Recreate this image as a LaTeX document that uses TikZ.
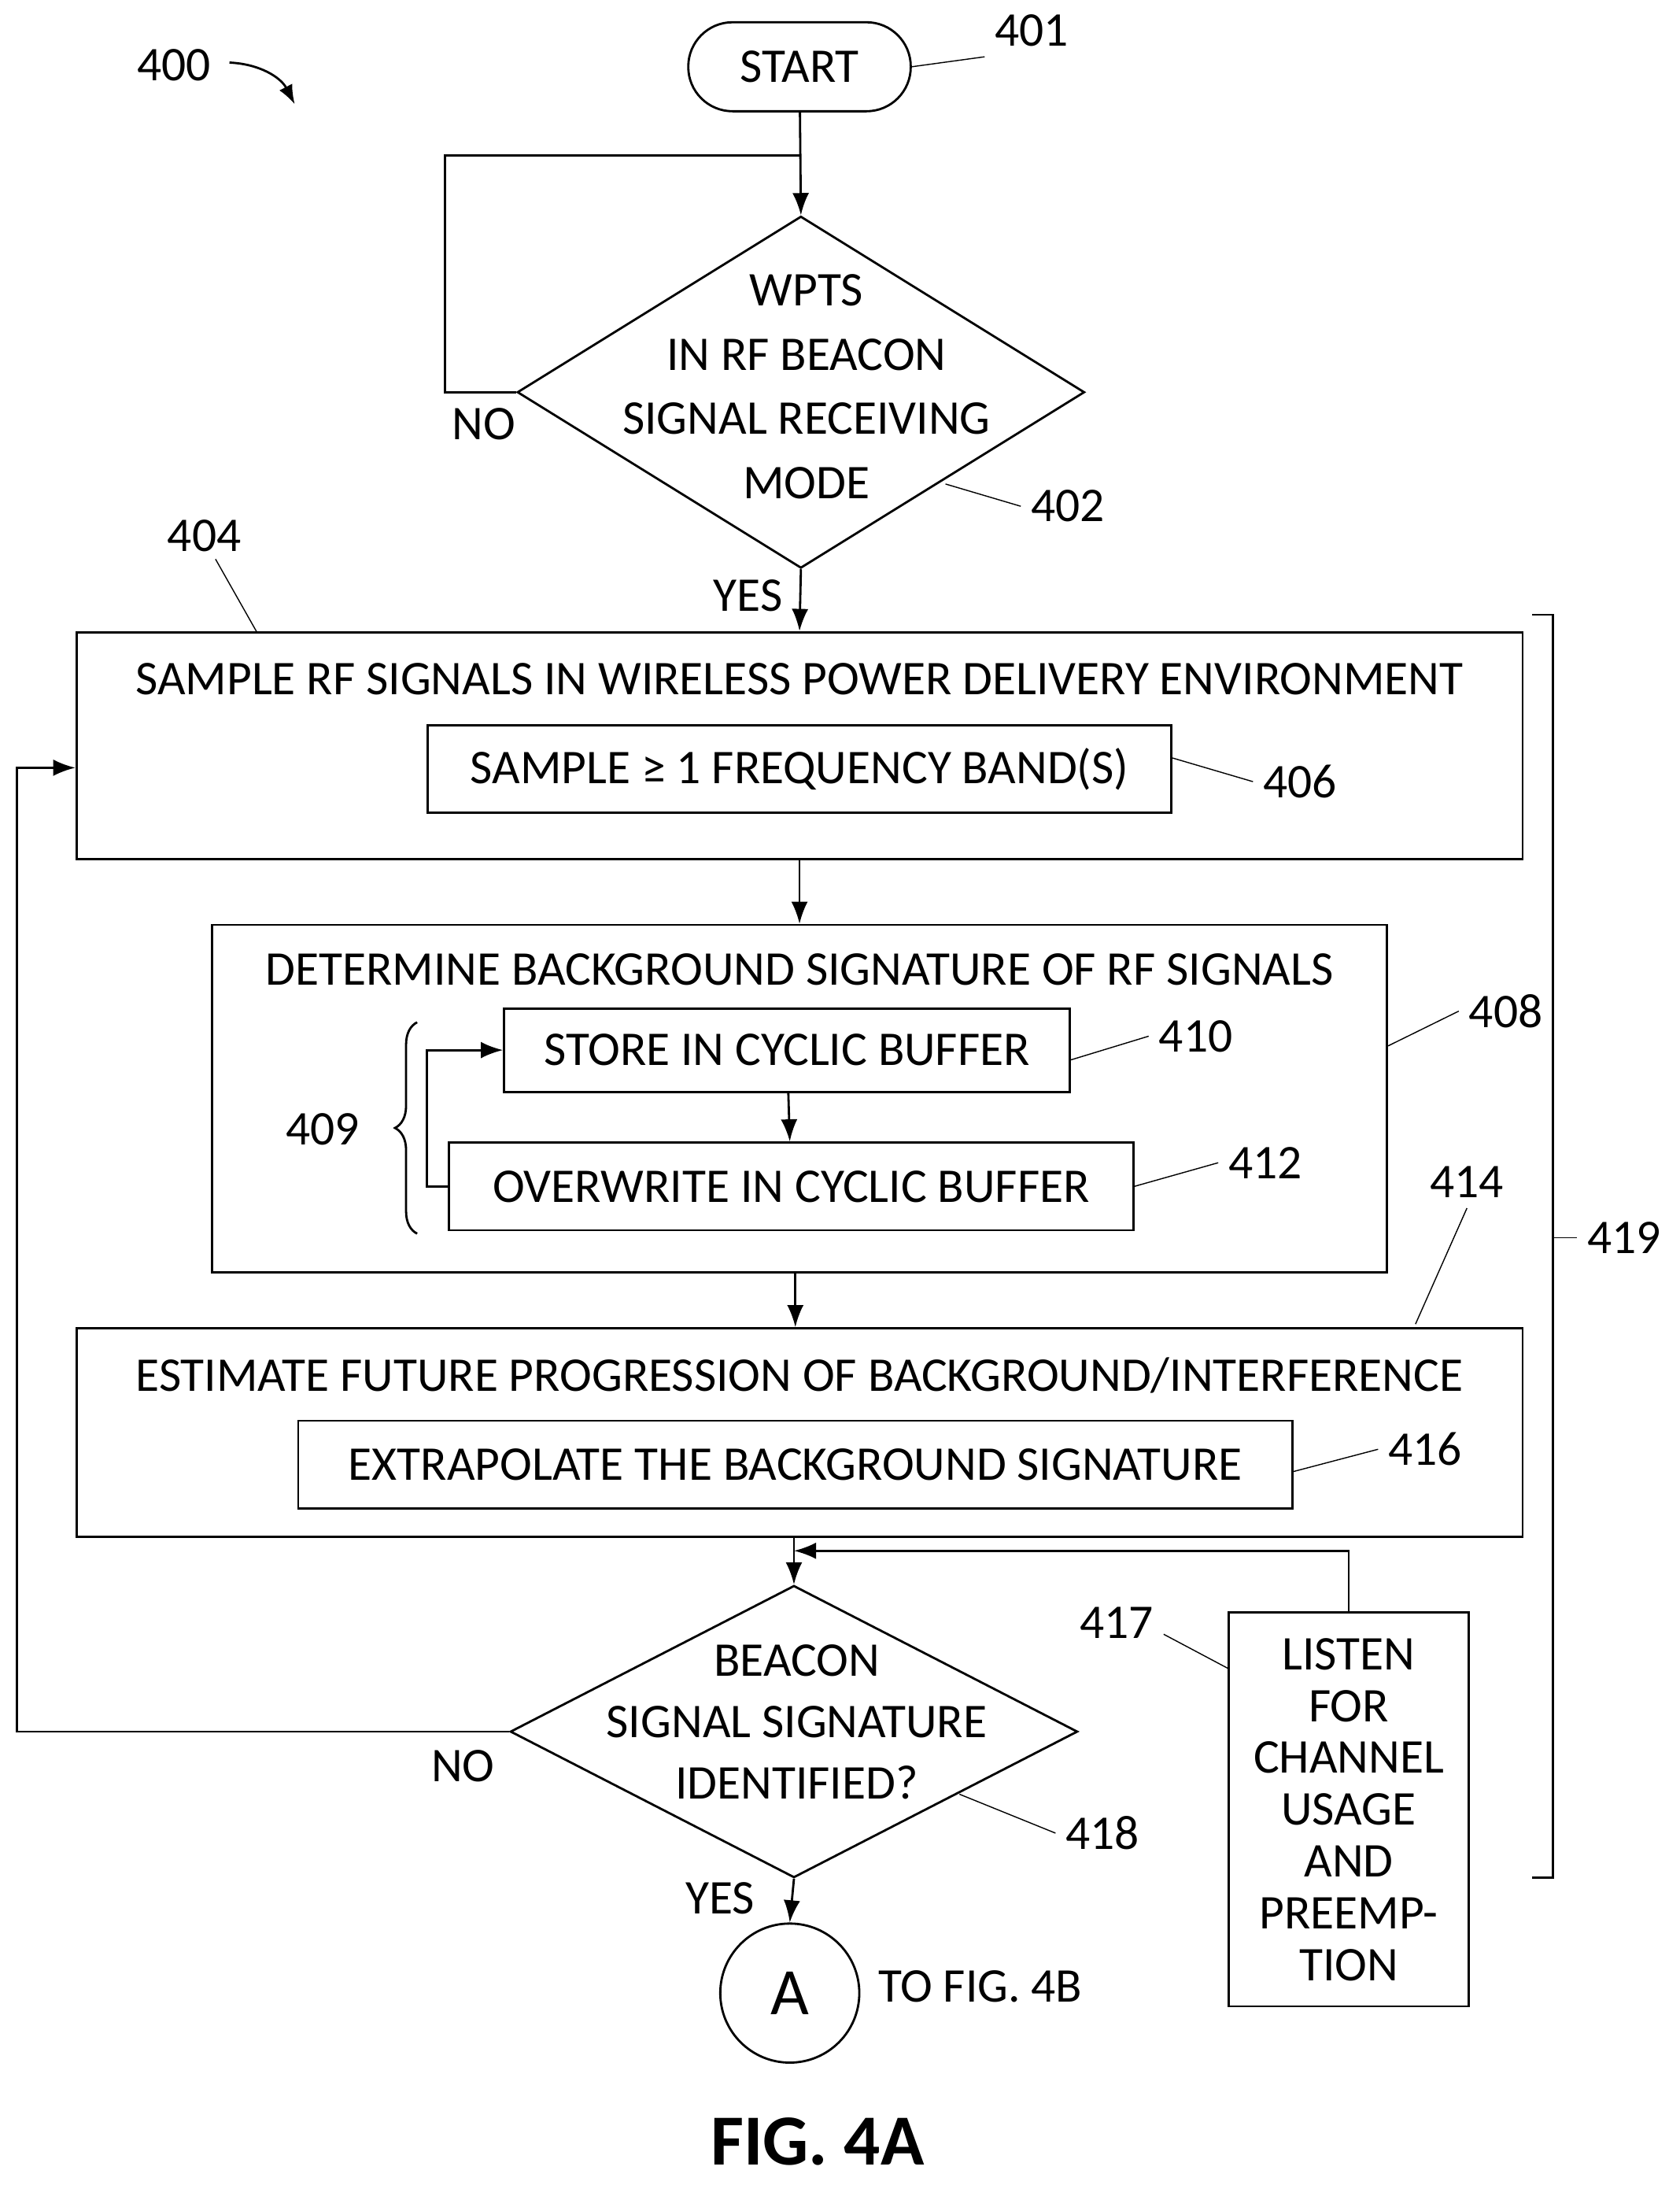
\documentclass[tikz,border=0pt]{standalone}
\usepackage{fontspec}
\setmainfont{Carlito}
\usetikzlibrary{shapes.geometric,arrows.meta,decorations.pathreplacing}
\newcommand\px{0.01767cm}
\tikzset{
  box/.style = {draw, thick, inner sep=0pt},
  check/.style = {draw, thick, diamond, inner sep=0pt, align=center},
  flow/.style = {thick, -{Latex[length=8pt]}},
  lead/.style = {thin},
}
\begin{document}
\begin{tikzpicture}[x=\px, y=-\px, font=\fontsize{17.5}{21}\selectfont, line width=0.8pt]
\useasboundingbox (0,0) rectangle (1208,1571);
% start
\node[box, rounded corners=16pt, minimum width=160*\px, minimum height=64*\px] (start) at (575,48) {START};
\node (n400) at (125,47) {400};
\draw[-{Latex[length=7pt]}] (165,45) to[bend left=30] (212,75);
\node (n401) at (742,22) {401};
\draw[lead] (start.east) -- (n401.south west);
% beacon mode check
\node[check, minimum width=408*\px, minimum height=253*\px] (mode) at (576,282) {};
\node[align=center] (modetxt) at (580,278) {WPTS\\[0.08cm]IN RF BEACON\\[0.08cm]SIGNAL RECEIVING\\[0.08cm]MODE};
\coordinate (loop) at (575,112);
\draw[flow] (start) -- (mode.north);
\draw[thick] (mode.west) -- (320,282) |- (loop);
\node (no1) at (348,305) {NO};
\node (n402) at (768,364) {402};
\draw[lead] (680,348) -- (n402.west);
% sample
\node[box, minimum width=1040*\px, minimum height=163*\px] (sample) at (575,536) {};
\node (sampletxt) at (575,488) {SAMPLE RF SIGNALS IN WIRELESS POWER DELIVERY ENVIRONMENT};
\node[box, minimum width=535*\px, minimum height=63*\px] (band) at (575,553) {SAMPLE ≥ 1 FREQUENCY BAND(S)};
\draw[flow] (mode.south) -- (sample.north);
\node (yes1) at (538,428) {YES};
\node (n404) at (147,385) {404};
\draw[lead] (155,402) -- (185,455);
\node (n406) at (935,562) {406};
\draw[lead] (band.east) ++(0,-8) -- (n406.west);
% background signature
\node[box, minimum width=845*\px, minimum height=250*\px] (bg) at (575,790) {};
\node (bgtxt) at (575,697) {DETERMINE BACKGROUND SIGNATURE OF RF SIGNALS};
\node[box, minimum width=407*\px, minimum height=60*\px] (store) at (566,755) {STORE IN CYCLIC BUFFER};
\node[box, minimum width=492*\px, minimum height=63*\px] (over) at (569,853) {OVERWRITE IN CYCLIC BUFFER};
\draw[flow] (sample.south) -- (bg.north);
\draw[flow] (store) -- (over);
\draw[flow] (over.west) -- (307,853) |- (store.west);
\draw[thick, decorate, decoration={brace, amplitude=8pt, mirror}] (300,735) -- (300,887);
\node (n409) at (232,812) {409};
\node (n410) at (860,745) {410};
\draw[lead] (store.east) ++(0,7) -- (n410.west);
\node (n412) at (910,836) {412};
\draw[lead] (over.east) -- (n412.west);
\node (n408) at (1083,727) {408};
\draw[lead] (bg.east) ++(0,-38) -- (n408.west);
% estimate
\node[box, minimum width=1040*\px, minimum height=150*\px] (est) at (575,1030) {};
\node (esttxt) at (575,989) {ESTIMATE FUTURE PROGRESSION OF BACKGROUND/INTERFERENCE};
\node[box, minimum width=715*\px, minimum height=63*\px] (extra) at (572,1053) {EXTRAPOLATE THE BACKGROUND SIGNATURE};
\draw[flow] (bg.south -| 572,0) -- (est.north -| 572,0);
\node (n414) at (1055,850) {414};
\draw[lead] (1018,952) -- (n414.south);
\node (n416) at (1025,1042) {416};
\draw[lead] (extra.east) ++(0,5) -- (n416.west);
% beacon signature check
\node[check, minimum width=408*\px, minimum height=210*\px] (sig) at (571,1245) {};
\node[align=center] (sigtxt) at (573,1238) {BEACON\\[0.04cm]SIGNAL SIGNATURE\\[0.04cm]IDENTIFIED?};
\draw[flow] (est.south -| sig.north) -- (sig.north);
\node[box, minimum width=173*\px, minimum height=283*\px, align=center] (listen) at (970,1301)
  {LISTEN\\[-0.08cm]FOR\\[-0.08cm]CHANNEL\\[-0.08cm]USAGE\\[-0.08cm]AND\\[-0.08cm]PREEMP-\\[-0.08cm]TION};
\coordinate (join) at (571,1115);
\draw[flow] (listen.north) |- (join);
\node (n417) at (803,1167) {417};
\draw[lead] (n417.east) ++(0,8) -- (884,1200);
\draw[flow] (sig.west) -- (12,1245) |- (sample.west |- 0,552);
\node (no2) at (333,1270) {NO};
\node (n418) at (793,1318) {418};
\draw[lead] (690,1290) -- (n418.west);
% connector
\node[draw, thick, circle, minimum size=100*\px, font=\fontsize{24}{28}\selectfont] (A) at (568,1433) {A};
\draw[flow] (sig.south) -- (A.north);
\node (yes2) at (518,1365) {YES};
\node (tofig) at (705,1428) {TO FIG. 4B};
% bracket
\draw[thick] (1102,442) -- (1117,442) -- (1117,1350) -- (1102,1350);
\node (n419) at (1168,890) {419};
\draw[lead] (1117,890) -- (n419.west);
\node[font=\fontsize{26}{30}\selectfont\bfseries] (fig) at (588,1540) {FIG. 4A};
\end{tikzpicture}
\end{document}
